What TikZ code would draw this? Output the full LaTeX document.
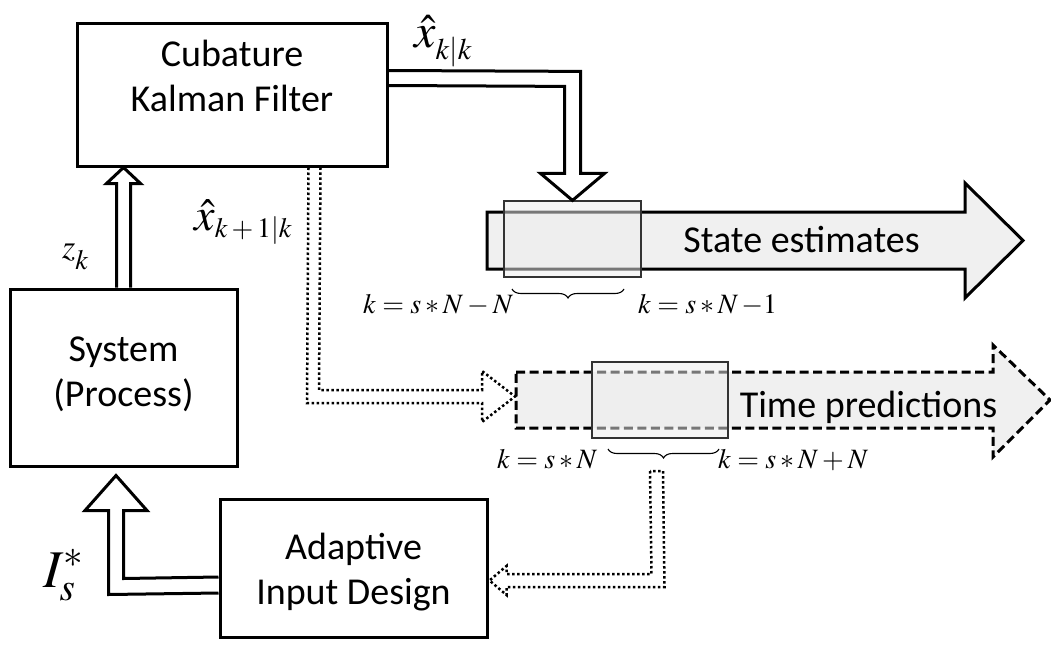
\documentclass[tikz,border=0pt]{standalone}
\usepackage{mathptmx}
\usepackage[no-math]{fontspec}
\setmainfont{Carlito}
\usetikzlibrary{calc,decorations.pathreplacing}
\definecolor{arrowfill}{HTML}{F0F0F0}
\definecolor{winfill}{HTML}{EEEEEE}
\begin{document}
\begin{tikzpicture}[x=1pt,y=-1pt,
  box/.style={draw,line width=3pt,inner sep=0pt},
  txt/.style={font=\fontsize{38}{45}\selectfont,align=center,inner sep=0pt},
  blk/.style={draw,line width=3pt,line join=miter},
  dots/.style={draw,line width=2.5pt,dash pattern=on 2.5pt off 2.5pt},
  bigarrow/.style={draw,line width=3pt,fill=arrowfill,line join=miter},
  win/.style={draw=black!80,line width=1.2pt,fill=winfill,fill opacity=0.5,inner sep=0pt},
  brc/.style={decorate,decoration={brace,mirror,amplitude=9pt},line width=1.1pt},
  mlab/.style={inner sep=0pt,anchor=base west}]
\useasboundingbox (0,0) rectangle (1051,653);

% blocks
\node[box,minimum width=310pt,minimum height=143pt] (ckf) at (232,94.5) {};
\node[txt,anchor=north] (ckft) at (232,40) {Cubature\\Kalman Filter};
\node[box,minimum width=227pt,minimum height=177pt] (sys) at (123.5,377.5) {};
\node[txt] (syst) at (123.5,374) {System\\(Process)};
\node[box,minimum width=267pt,minimum height=138pt] (aid) at (353.5,568) {};
\node[txt,anchor=north] (aidt) at (353.5,533) {Adaptive\\Input Design};

% big arrows
\path[bigarrow] (487,212) -- (965,212) -- (965,183) -- (1023,240.5) -- (965,298) -- (965,269) -- (487,269) -- cycle;
\node[txt,anchor=base] (set) at (801.5,252) {State estimates};
\path[bigarrow,dash pattern=on 9pt off 4.5pt] (516,372) -- (993,372) -- (993,345) -- (1050,400) -- (993,457) -- (993,428) -- (516,428) -- cycle;
\coordinate (tpw) at (516,400);
\node[txt,anchor=base] (tpt) at (868.5,417) {Time predictions};

% windows
\node[win,minimum width=137pt,minimum height=76pt] (win1) at (572.5,239) {};
\node[win,minimum width=136pt,minimum height=76pt] (win2) at (660,400) {};

% braces
\draw[brc] (512,289) -- (624,289);
\draw[brc] (608,449) -- (719,449);
\coordinate (b2tip) at (656.5,458);

% labels
\node[mlab,font=\fontsize{28}{30}\selectfont] (l1) at (363,313) {$k=s*N-N$};
\node[mlab,font=\fontsize{28}{30}\selectfont] (l2) at (638,313) {$k=s*N\,{-}1$};
\node[mlab,font=\fontsize{28}{30}\selectfont] (l3) at (497,468) {$k=s*N$};
\node[mlab,font=\fontsize{28}{30}\selectfont] (l4) at (718,468) {$k=s*N+N$};
\node[mlab] (xkk) at (414,47) {\fontsize{48}{50}\selectfont$\hat{x}$\raisebox{-12pt}{\fontsize{30}{32}\selectfont$k|k$}};
\node[mlab] (xk1) at (194,230) {\fontsize{46}{48}\selectfont$\hat{x}$\raisebox{-7pt}{\fontsize{28}{30}\selectfont$k+1|k$}};
\node[mlab] (zk) at (62,258) {\fontsize{34}{36}\selectfont$z$\raisebox{-11pt}{\fontsize{28}{30}\selectfont$k$}};
\node[mlab,font=\fontsize{53}{56}\selectfont] (is) at (43,587) {$I_s^*$};

% z_k : system -> CKF
\coordinate (zt) at (sys.north |- ckf.south);
\draw[blk] ($(sys.north)+(-7,0)$) -- ($(zt)+(-7,16)$) -- ($(zt)+(-17,16)$) -- (zt)
  -- ($(zt)+(17,16)$) -- ($(zt)+(7,16)$) -- ($(sys.north)+(7,0)$);

% CKF -> state estimates window
\draw[blk] ($(ckf.north east)+(0,49)$) -- ($(win1.north)+(8,-129)$) -- ($(win1.north)+(8,-27)$)
  -- ($(win1.north)+(32,-27)$) -- (win1.north) -- ($(win1.north)+(-32,-27)$)
  -- ($(win1.north)+(-8,-27)$) -- ($(win1.north)+(-8,-114)$) -- ($(ckf.north east)+(0,64)$);

% CKF -> time predictions (dotted)
\coordinate (T) at ($(tpw)+(-1,-3.5)$);
\draw[dots] ($(ckf.south east)+(-80,0)$) -- ($(T)+(-208,6.5)$) -- ($(T)+(-33,6.5)$)
  -- ($(T)+(-33,25.5)$) -- (T) -- ($(T)+(-33,-25.5)$) -- ($(T)+(-33,-6.5)$)
  -- ($(T)+(-196,-6.5)$) -- ($(ckf.south east)+(-68,0)$);

% prediction window -> adaptive input design (dotted)
\coordinate (ta) at ($(aid.east)+(1,12.5)$);
\draw[dots] ($(b2tip)+(-6.5,13)$) -- ($(ta)+(162,-6.5)$) -- ($(ta)+(17,-6.5)$)
  -- ($(ta)+(17,-14.5)$) -- (ta) -- ($(ta)+(17,14.5)$) -- ($(ta)+(17,6.5)$)
  -- ($(ta)+(175,6.5)$) -- ($(b2tip)+(6.5,13)$) -- cycle;

% adaptive input design -> system
\coordinate (it) at ($(sys.south)+(-7.5,8)$);
\draw[blk] ($(aid.west)+(0,25)$) -- ($(it)+(-7.5,119)$) -- ($(it)+(-7.5,35)$) -- ($(it)+(-31,35)$)
  -- (it) -- ($(it)+(31,35)$) -- ($(it)+(7.5,35)$) -- ($(it)+(7.5,103)$) -- ($(aid.west)+(0,9)$);
\end{tikzpicture}
\end{document}
